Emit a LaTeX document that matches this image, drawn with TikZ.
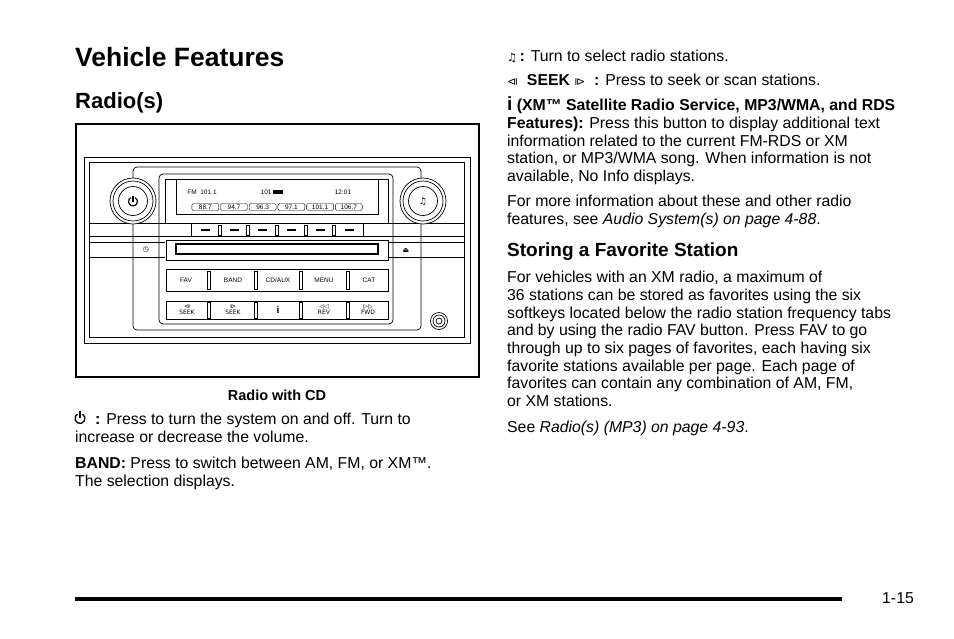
\documentclass[tikz,border=0pt]{standalone}
\usepackage{fontspec}
\setmainfont{Liberation Sans}
\newfontfamily\dejavu{DejaVu Sans}
\begin{document}
\begin{tikzpicture}[x=1pt,y=-1pt,
  body/.style={anchor=base west,inner sep=0pt,font=\fontsize{15.8}{17}\selectfont},
  tiny/.style={inner sep=0pt,font=\fontsize{6.5}{7}\selectfont},
  ln/.style={line width=0.7pt}]
\useasboundingbox (0,0) rectangle (954,638);
\fill[white] (0,0) rectangle (954,638);
% headings
\node[anchor=base west,inner sep=0pt,font=\fontsize{26.5}{30}\selectfont\bfseries] (t1) at (75,66) {Vehicle Features};
\node[anchor=base west,inner sep=0pt,font=\fontsize{22}{24}\selectfont\bfseries] (t2) at (75,108) {Radio(s)};
% radio figure
\draw[line width=1.5pt] (76,124) rectangle (479,377);
\draw[ln] (84,157) rectangle (470,343);
\draw[ln] (89,162) rectangle (464,337);
\draw[ln,rounded corners=4pt] (133,167) rectangle (421,330);
\draw[ln,rounded corners=4pt] (159,174) rectangle (393,324);
\draw[ln] (165,179) rectangle (388,223);
\draw[ln] (176,179) -- (176,214) -- (378,214) -- (378,179);
\node[tiny] (fm) at (202,192) {FM\ \ 101.1};
\node[tiny] (ch) at (272,192) {101 \rule{10pt}{4pt}};
\node[tiny] (tm) at (343,192) {12:01};
\foreach \v [count=\i] in {88.7,94.7,96.3,97.1,101.1,106.7}
  \node[tiny,draw,rounded corners=2pt,minimum width=27pt,minimum height=7pt] (p\i) at (176.6+28.7*\i,207) {\v};
% preset strip
\draw[ln] (89,223) -- (464,223);
\draw[ln] (191,223) rectangle (363,236);
\draw[ln] (89,236) -- (191,236) (363,236) -- (464,236);
\foreach \i in {0,...,5} \draw[line width=1.2pt] (201+28.7*\i,230) -- (210+28.7*\i,230);
\foreach \i in {0,...,4} \draw[ln] (218+28.7*\i,225) rectangle (221+28.7*\i,235);
% side band
\draw[ln] (89,242) -- (165,242) (89,257) -- (165,257);
\draw[ln] (388,242) -- (464,242) (388,257) -- (464,257);
\draw[ln] (166,240) rectangle (388,260);
\draw[line width=1.2pt] (176,244) rectangle (378,254);
\node[tiny,font=\dejavu\fontsize{7}{7}\selectfont] (clk) at (146,250) {◷};
\node[tiny,font=\dejavu\fontsize{7}{7}\selectfont] (ej) at (406,250) {⏏};
% buttons
\draw[ln] (166,269) rectangle (388,291);
\draw[ln] (166,301) rectangle (388,319);
\foreach \x in {209,256,301,348} {\draw[ln] (\x-1.5,271) rectangle (\x+1.5,289); \draw[ln] (\x-1.5,302) rectangle (\x+1.5,318);}
\node[tiny] (b1) at (186,280) {FAV};
\node[tiny] (b2) at (233,280) {BAND};
\node[tiny] (b3) at (278,280) {CD/AUX};
\node[tiny] (b4) at (324,280) {MENU};
\node[tiny] (b5) at (369,280) {CAT};
\node[tiny,align=center,font=\dejavu\fontsize{6}{6}\selectfont] (s1) at (187,310) {⧏\\SEEK};
\node[tiny,align=center,font=\dejavu\fontsize{6}{6}\selectfont] (s2) at (233,310) {⧐\\SEEK};
\node[tiny,font=\fontsize{10}{10}\selectfont\bfseries] (s3) at (278,310) {i};
\node[tiny,align=center,font=\dejavu\fontsize{6}{6}\selectfont] (s4) at (324,310) {◁◁\\REV};
\node[tiny,align=center,font=\dejavu\fontsize{6}{6}\selectfont] (s5) at (368,310) {▷▷\\FWD};
% knobs
\foreach \c/\n in {133/kl,423/kr} {\fill[white] (\c,201) circle (23); \draw[ln] (\c,201) circle (23); \draw[ln] (\c,201) circle (20); \draw[ln] (\c,201) circle (14.5);}
\draw[line width=1.2pt] (133,196) -- (133,202);
\draw[line width=1.2pt] (133,201.5) ++(300:4.5) arc (300:600:4.5);
\node[tiny,font=\dejavu\fontsize{9}{9}\selectfont] (note) at (423,202) {♫};
\draw[ln] (439,321) circle (8.5) (439,321) circle (6) (439,321) circle (3);
% caption
\node[anchor=base,inner sep=0pt,font=\fontsize{14.5}{17}\selectfont\bfseries] (cap) at (277,400) {Radio with CD};
% left text power icon
\draw[line width=1.3pt] (80,411) -- (80,418);
\draw[line width=1.3pt] (80,418.5) ++(300:5) arc (300:600:5);
\node[body] (l1) at (95,424) {\textbf{:} Press to turn the system on and off. Turn to};
\node[body] (l2) at (75,442) {increase or decrease the volume.};
\node[body] (l3) at (75,468) {\textbf{BAND:} Press to switch between AM, FM, or XM™.};
\node[body] (l4) at (75,486) {The selection displays.};
% right text
\node[body] (r1) at (507,61) {{\dejavu\fontsize{11}{11}\selectfont ♫}\,\textbf{:} Turn to select radio stations.};
\node[body] (r2) at (507,85) {{\dejavu\fontsize{11}{11}\selectfont ⧏}\ \ \textbf{SEEK} {\dejavu\fontsize{11}{11}\selectfont ⧐}\ \ \textbf{:} Press to seek or scan stations.};
\node[body] (r3) at (507,110) {\textbf{{\fontsize{19}{19}\selectfont i} (XM™ Satellite Radio Service, MP3/WMA, and RDS}};
\node[body] (r4) at (507,128) {\textbf{Features):} Press this button to display additional text};
\node[body] (r5) at (507,146) {information related to the current FM-RDS or XM};
\node[body] (r6) at (507,163) {station, or MP3/WMA song. When information is not};
\node[body] (r7) at (507,181) {available, No Info displays.};
\node[body] (r8) at (507,206) {For more information about these and other radio};
\node[body] (r9) at (507,224) {features, see \textit{Audio System(s) on page 4-88}.};
\node[anchor=base west,inner sep=0pt,font=\fontsize{19}{20}\selectfont\bfseries] (h3) at (507,256) {Storing a Favorite Station};
\node[body] (s01) at (507,282) {For vehicles with an XM radio, a maximum of};
\node[body] (s02) at (507,300) {36 stations can be stored as favorites using the six};
\node[body] (s03) at (507,318) {softkeys located below the radio station frequency tabs};
\node[body] (s04) at (507,335) {and by using the radio FAV button. Press FAV to go};
\node[body] (s05) at (507,353) {through up to six pages of favorites, each having six};
\node[body] (s06) at (507,371) {favorite stations available per page. Each page of};
\node[body] (s07) at (507,388) {favorites can contain any combination of AM, FM,};
\node[body] (s08) at (507,406) {or XM stations.};
\node[body] (s09) at (507,432) {See \textit{Radio(s) (MP3) on page 4-93}.};
% footer
\draw[line width=4pt] (75,599) -- (842,599);
\node[body] (pg) at (882,603) {1-15};
\end{tikzpicture}
\end{document}
